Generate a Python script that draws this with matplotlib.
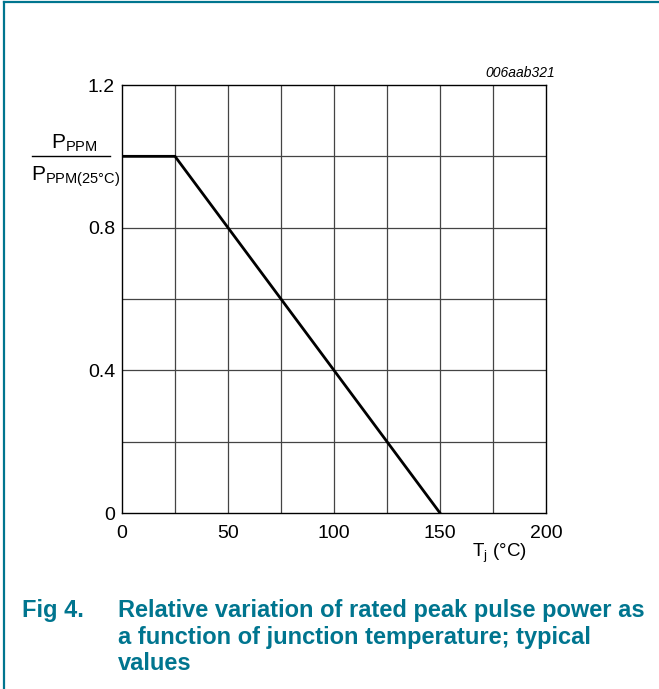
import numpy as np
import matplotlib
matplotlib.use("Agg")
import matplotlib.pyplot as plt
from matplotlib.lines import Line2D

# derating curve: junction temperature vs relative peak pulse power
tj = [0, 25, 150]
p_rel = [1.0, 1.0, 0.0]

x_ticks = [0, 50, 100, 150, 200]
y_ticks = [0, 0.4, 0.8, 1.2]
x_grid = [25, 75, 125, 175]
y_grid = [0.2, 0.6, 1.0]

teal = "#00758f"
plt.rcParams['font.family'] = ['Liberation Sans', 'DejaVu Sans']
plt.rcParams['mathtext.fontset'] = 'custom'
plt.rcParams['mathtext.rm'] = 'Liberation Sans'

fig = plt.figure(figsize=(6.59, 6.89), dpi=100)
ax = fig.add_axes([122/659, 1-513/689, 424/659, 428/689])

# grid lines
for g in x_ticks[1:-1] + x_grid:
    ax.axvline(g, color="#444444", lw=0.9, zorder=1)
for g in [0.4, 0.8] + y_grid:
    ax.axhline(g, color="#444444", lw=0.9, zorder=1)

ax.plot(tj, p_rel, color="black", lw=2.0, zorder=3, solid_joinstyle="miter")

ax.set_xlim(0, 200)
ax.set_ylim(0, 1.2)
ax.set_xticks(x_ticks)
ax.set_yticks(y_ticks)
ax.set_xticklabels([str(t) for t in x_ticks])
ax.set_yticklabels(["0", "0.4", "0.8", "1.2"])
ax.tick_params(length=0, labelsize=14)
ax.tick_params(axis="x", pad=9)
ax.tick_params(axis="y", pad=5)
for s in ax.spines.values():
    s.set_linewidth(1.0)

# axis labels
fig.text(472/659, 1-553/689, r"T$_\mathregular{j}$ (°C)", fontsize=13.5, ha="left", va="center")
fig.text(74/659, 1-143/689, r"P$_\mathregular{PPM}$", fontsize=15, ha="center", va="center")
fig.text(76/659, 1-177/689, r"P$_\mathregular{PPM(25°C)}$", fontsize=15, ha="center", va="center")
fig.add_artist(Line2D([32/659, 110/659], [1-156/689, 1-156/689], color="black", lw=1.0))

fig.text(555/659, 1-73/689, "006aab321", fontsize=10, style="italic", ha="right", va="center")

# caption
fig.text(22/659, 1-611/689, "Fig 4.", fontsize=17, weight="bold", color=teal, va="center")
cap = ["Relative variation of rated peak pulse power as",
       "a function of junction temperature; typical",
       "values"]
for i, line in enumerate(cap):
    fig.text(118/659, 1-(611+26.5*i)/689, line, fontsize=17, weight="bold", color=teal, va="center")

# frame
fig.add_artist(Line2D([4/659, 1.0], [1-2/689, 1-2/689], color=teal, lw=1.6))
fig.add_artist(Line2D([4/659, 4/659], [0, 1-2/689], color=teal, lw=1.6))

fig.savefig("out.png", dpi=100)
